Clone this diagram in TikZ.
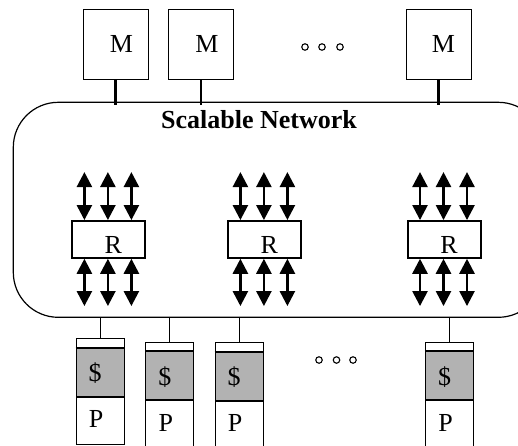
\documentclass[tikz,border=0pt]{standalone}
\usepackage{fontspec}
\setmainfont{Liberation Serif}
\usetikzlibrary{arrows.meta,calc}
\begin{document}
\begin{tikzpicture}[x=1pt,y=-1pt,
  lbl/.style={font=\fontsize{26}{30}\selectfont, inner sep=0pt},
  mbox/.style={draw, line width=1pt, minimum width=65pt, minimum height=70pt, inner sep=0pt},
  rbox/.style={draw, line width=2pt, minimum width=73pt, minimum height=36.7pt, inner sep=0pt},
  strip/.style={draw, line width=1pt, minimum width=48.3pt, minimum height=8.4pt, inner sep=0pt, anchor=north},
  cache/.style={draw, line width=1pt, fill=black!30, minimum width=48.3pt, minimum height=48.3pt, inner sep=0pt, anchor=north},
  pcell/.style={draw, line width=1pt, minimum width=48.3pt, minimum height=47pt, inner sep=0pt, anchor=north},
  thick link/.style={line width=2.5pt},
  thin link/.style={line width=1pt},
  dbl/.style={line width=2.5pt, {Triangle[width=15pt,length=15pt]}-{Triangle[width=15pt,length=15pt]}},
  dot/.style={draw, line width=1.1pt, circle, minimum size=6.5pt, inner sep=0pt}
]
\clip (0,0) rectangle (518,445);
\fill[white] (0,0) rectangle (518,445);

% network
\node[draw, line width=1.2pt, rounded corners=45pt, anchor=north west,
      minimum width=530pt, minimum height=215pt, inner sep=0pt] (net) at (12.7,101.7) {};
\node[anchor=base, font=\fontsize{26}{30}\selectfont\bfseries, inner sep=0pt] (title) at (259,128) {Scalable Network};

% memories
\node[mbox] (m1) at (115.5,44) {};
\node[mbox] (m2) at (201,44) {};
\node[mbox] (m3) at (438.5,44) {};
\node[lbl] (m1t) at ($(m1.center)+(6,0)$) {M};
\node[lbl] (m2t) at ($(m2.center)+(6,0)$) {M};
\node[lbl] (m3t) at ($(m3.center)+(5,0)$) {M};
\node[dot] (td1) at (305,47) {};
\node[dot] (td2) at (322,47) {};
\node[dot] (td3) at (340,47) {};
\coordinate (n1) at ($(m1.south |- net.north)+(0,3)$);
\coordinate (n2) at ($(m2.south |- net.north)+(0,3)$);
\coordinate (n3) at ($(m3.south |- net.north)+(0,3)$);
\draw[thick link] (m1.south) -- (n1);
\draw[thick link] (m2.south) -- (n2);
\draw[thick link] (m3.south) -- (n3);

% routers
\foreach \r/\x in {r1/108.4, r2/264.4, r3/444} {
  \node[rbox] (\r) at (\x,239.4) {};
  \node[lbl] (\r t) at ($(\r.center)+(5,5.5)$) {R};
  \foreach \d in {-24,-0.5,23} {
    \draw[dbl] ($(\r.north)+(\d,-48)$) -- ($(\r.north)+(\d,0)$);
    \draw[dbl] ($(\r.south)+(\d,0)$) -- ($(\r.south)+(\d,47.3)$);
  }
}

% processing nodes
\foreach \p/\x/\t in {p1/100.2/338.3, p2/169.8/341.7, p3/239.2/342.3, p4/449.5/341.7} {
  \node[strip] (\p s) at (\x,\t) {};
  \node[cache] (\p c) at (\p s.south) {};
  \node[pcell] (\p p) at (\p c.south) {};
  \node[lbl] (\p ct) at ($(\p c.center)+(-5,1)$) {\$};
  \node[lbl] (\p pt) at ($(\p p.center)+(-4,-1.8)$) {P};
  \draw[thin link] (\p s.north |- net.south) -- (\p s.north);
}
\draw[line width=1.6pt] (p1c.north west) -- (p1c.north east);
\draw[line width=1.6pt] (p2c.north west) -- (p2c.north east);
\draw[line width=1.6pt] (p3c.north west) -- (p3c.north east);
\draw[line width=1.6pt] (p4c.north west) -- (p4c.north east);
\node[dot] (bd1) at (319,360) {};
\node[dot] (bd2) at (336.5,360) {};
\node[dot] (bd3) at (353,360) {};
\end{tikzpicture}
\end{document}
